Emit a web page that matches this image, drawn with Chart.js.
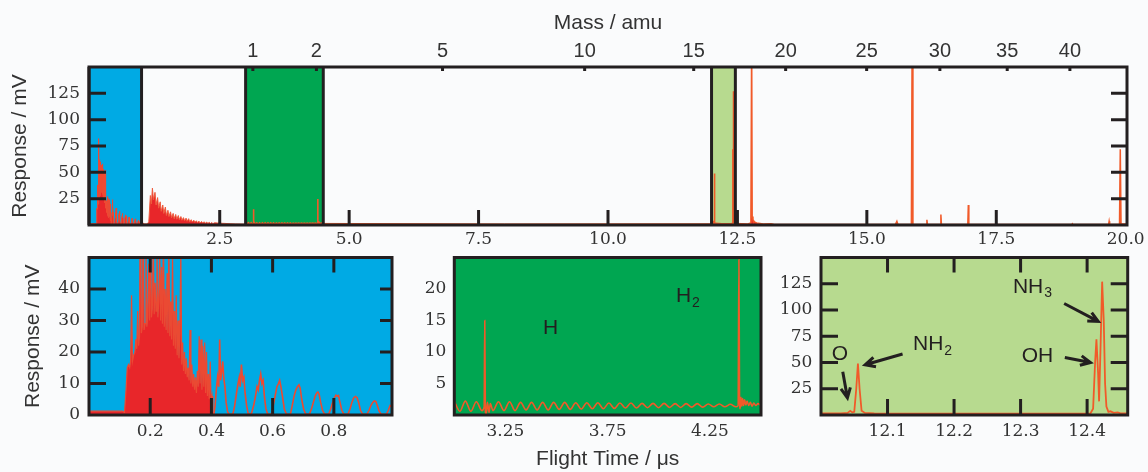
<!DOCTYPE html>
<html>
<head>
<meta charset="utf-8">
<script src="https://cdn.jsdelivr.net/npm/chart.js@4/dist/chart.umd.min.js"></script>
<style>
  html, body { margin: 0; padding: 0; background: #fafbfc; }
  #wrap { position: relative; width: 1148px; height: 472px; overflow: hidden; }
  .panel { position: absolute; }
</style>
</head>
<body>
<div id="wrap">
  <div class="panel" style="left:0;top:0"><canvas id="overview" width="1148" height="252"></canvas></div>
  <div class="panel" style="left:0;top:250px"><canvas id="zoomFast" width="400" height="222"></canvas></div>
  <div class="panel" style="left:400px;top:250px"><canvas id="zoomHydrogen" width="380" height="222"></canvas></div>
  <div class="panel" style="left:780px;top:250px"><canvas id="zoomAmmonia" width="368" height="222"></canvas></div>
</div>
<script>
// ---- data: [flight time (us), response (mV)] ----

// 0 - 0.41 us: dense fast burst (overview + bottom left)
const burstDense = [
  [0.000, 1.2], [0.110, 1.2], [0.116, 0.8], [0.121, 8], [0.125, 15], [0.129, 16], [0.133, 15],
  [0.136, 17], [0.139, 38], [0.142, 17], [0.146, 19], [0.150, 20], [0.153, 24], [0.156, 21],
  [0.159, 33], [0.162, 22], [0.165, 25], [0.168, 82], [0.171, 26], [0.174, 28], [0.177, 62],
  [0.180, 27], [0.183, 29], [0.186, 55], [0.189, 28], [0.192, 31], [0.195, 48], [0.198, 30],
  [0.201, 60], [0.204, 31], [0.207, 34], [0.210, 57], [0.213, 32], [0.216, 42], [0.219, 33],
  [0.222, 55], [0.225, 31], [0.228, 36], [0.231, 52], [0.234, 30], [0.237, 47], [0.240, 29],
  [0.243, 58], [0.246, 28], [0.249, 40], [0.252, 27], [0.255, 45], [0.258, 26], [0.261, 53],
  [0.264, 25], [0.267, 36], [0.270, 24], [0.273, 51], [0.276, 22], [0.279, 33], [0.282, 21],
  [0.285, 38], [0.288, 19], [0.291, 30], [0.294, 18], [0.297, 26], [0.300, 52], [0.303, 16],
  [0.306, 23], [0.309, 14], [0.312, 20], [0.315, 13], [0.318, 18], [0.321, 12], [0.324, 15],
  [0.327, 11], [0.330, 27], [0.333, 10], [0.336, 16], [0.339, 9], [0.342, 13], [0.345, 8],
  [0.348, 12], [0.351, 7], [0.354, 14], [0.357, 9], [0.360, 25], [0.363, 10], [0.366, 24],
  [0.369, 8], [0.372, 22], [0.375, 9], [0.378, 23], [0.381, 7], [0.384, 20], [0.387, 6],
  [0.390, 13], [0.393, 5], [0.396, 17], [0.399, 4], [0.402, 6], [0.405, 1], [0.408, 0.3]
];

// 0.41 - 1 us: decaying humps (overview + bottom left)
const burstHumps = [
  [0.408, 0.3], [0.412, 3], [0.416, 8], [0.420, 12], [0.424, 9], [0.427, 24], [0.430, 11],
  [0.434, 14], [0.437, 17], [0.440, 12], [0.444, 9], [0.448, 4], [0.453, 1], [0.458, 0.2],
  [0.470, 0.2], [0.476, 3], [0.482, 7], [0.487, 10], [0.491, 12], [0.494, 9], [0.498, 16],
  [0.502, 11], [0.506, 12], [0.510, 7], [0.515, 3], [0.520, 0.5], [0.530, 0.2], [0.538, 3],
  [0.544, 6], [0.549, 9], [0.553, 8], [0.557, 11], [0.561, 13], [0.565, 10], [0.569, 11],
  [0.573, 6], [0.578, 2], [0.584, 0.2], [0.596, 0.2], [0.602, 3], [0.608, 6], [0.614, 9],
  [0.619, 10], [0.623, 11], [0.627, 9], [0.632, 6], [0.638, 2], [0.645, 0.2], [0.658, 0.2],
  [0.664, 3], [0.670, 6], [0.676, 8], [0.681, 9], [0.686, 9.6], [0.690, 8.5], [0.695, 5],
  [0.701, 2], [0.708, 0.2], [0.720, 0.2], [0.727, 2], [0.733, 4], [0.739, 6], [0.744, 7],
  [0.748, 7.3], [0.752, 6.5], [0.757, 4], [0.763, 1.5], [0.770, 0.2], [0.783, 0.2], [0.790, 2],
  [0.796, 4], [0.802, 5.5], [0.807, 6.3], [0.811, 6.0], [0.815, 6.2], [0.820, 4], [0.826, 1.5],
  [0.833, 0.2], [0.846, 0.2], [0.853, 2], [0.859, 4], [0.865, 5.5], [0.871, 5.9], [0.876, 5.5],
  [0.881, 4], [0.887, 1.5], [0.894, 0.2], [0.908, 0.2], [0.915, 1.5], [0.921, 3], [0.927, 4],
  [0.932, 4.5], [0.937, 4.3], [0.942, 3], [0.948, 1.2], [0.955, 0.2], [0.972, 0.2], [0.978, 1.5],
  [0.984, 3], [0.990, 2.5]
];

// 1 - 3 us: second comb (overview only)
const comb = [
  [0.990, 2.5], [1.05, 1], [1.10, 1], [1.13, 3], [1.16, 28], [1.18, 20], [1.20, 35], [1.22, 24],
  [1.25, 31], [1.27, 19], [1.30, 26], [1.32, 16], [1.35, 22], [1.37, 13], [1.40, 19], [1.42, 11],
  [1.45, 17], [1.47, 9], [1.50, 14], [1.52, 8], [1.55, 12.5], [1.57, 7], [1.60, 11], [1.62, 6],
  [1.65, 10], [1.67, 5.5], [1.70, 9], [1.72, 5], [1.75, 8], [1.77, 4.5], [1.80, 7], [1.82, 4],
  [1.85, 6.5], [1.87, 3.5], [1.90, 6], [1.92, 3], [1.95, 5], [1.97, 2.8], [2.00, 4.5], [2.02, 2.5],
  [2.05, 4], [2.07, 2.2], [2.10, 3.6], [2.12, 2], [2.15, 3.3], [2.17, 1.8], [2.20, 3], [2.22, 1.6],
  [2.25, 2.8], [2.27, 1.5], [2.30, 2.5], [2.32, 1.4], [2.35, 2.3], [2.37, 1.3], [2.40, 2.1],
  [2.45, 1.9], [2.50, 1.8], [2.55, 1.6], [2.60, 1.5], [2.70, 1.2], [2.80, 1.0], [3.00, 0.8]
];

// 3 - 4.5 us: H and H2 (overview + bottom middle)
const hydrogen = [
  [3.000, 2.2], [3.027, 0.6], [3.054, 2.2], [3.081, 0.6], [3.108, 2.1], [3.135, 0.7],
  [3.146, 1.3], [3.149, 15], [3.152, 0.5], [3.156, 0.1], [3.162, 2.0], [3.170, 0.4], [3.176, 1.8],
  [3.189, 0.7], [3.216, 2.1], [3.243, 0.7], [3.270, 2.1], [3.297, 0.7], [3.324, 2.0], [3.351, 0.8],
  [3.378, 2.0], [3.405, 0.8], [3.432, 2.0], [3.459, 0.8], [3.486, 2.0], [3.513, 0.9], [3.540, 2.0],
  [3.567, 0.9], [3.594, 1.95], [3.621, 0.95], [3.648, 1.95], [3.675, 1.0], [3.702, 1.95],
  [3.729, 1.0], [3.756, 1.9], [3.783, 1.05], [3.810, 1.9], [3.837, 1.1], [3.864, 1.9], [3.891, 1.1],
  [3.918, 1.85], [3.945, 1.15], [3.972, 1.85], [3.999, 1.15], [4.026, 1.85], [4.053, 1.2],
  [4.080, 1.8], [4.107, 1.2], [4.134, 1.8], [4.161, 1.25], [4.188, 1.8], [4.215, 1.25],
  [4.242, 1.75], [4.269, 1.3], [4.296, 1.75], [4.323, 1.3], [4.350, 1.7], [4.377, 1.3],
  [4.388, 1.5], [4.392, 24.7], [4.395, 3], [4.398, 1.0], [4.402, 2.8], [4.406, 1.4], [4.410, 2.6],
  [4.415, 1.5], [4.420, 2.4], [4.426, 1.6], [4.432, 2.2], [4.440, 1.5], [4.448, 2.0], [4.456, 1.4],
  [4.465, 1.9], [4.475, 1.5], [4.485, 1.8], [4.500, 1.5]
];

// 4.5 - 12 us: flat (overview only)
const quiet = [[4.500, 1.5], [8.0, 1.0], [12.000, 1.2]];

// 12 - 12.46 us: O, NH2, OH, NH3 (overview + bottom right)
const ammonia = [
  [12.000, 1.5], [12.030, 1.5], [12.040, 2], [12.044, 4], [12.047, 2.5], [12.050, 3],
  [12.053, 25], [12.0555, 49], [12.058, 25], [12.061, 4], [12.066, 2], [12.080, 1.5],
  [12.200, 1.2], [12.380, 1.2], [12.405, 1.5], [12.409, 6], [12.412, 50], [12.414, 72],
  [12.4165, 40], [12.418, 13], [12.420, 60], [12.4226, 127], [12.425, 90], [12.427, 30],
  [12.429, 8], [12.432, 3], [12.435, 3.5], [12.440, 2], [12.446, 2.5], [12.450, 1.5], [12.460, 1.5]
];

// 12.46 - 20 us: heavier masses (overview only)
const heavy = [
  [12.46, 1.5], [12.70, 1], [12.76, 2], [12.775, 180], [12.785, 8], [12.80, 5], [12.83, 3],
  [12.87, 2], [13.00, 1], [13.15, 1.2], [13.20, 0.8], [15.55, 0.5], [15.58, 3.5], [15.60, 0.5],
  [15.86, 0.5], [15.875, 180], [15.89, 0.5], [16.15, 0.5], [16.16, 5], [16.17, 0.5], [16.42, 0.5],
  [16.43, 10], [16.44, 0.5], [16.95, 0.5], [16.96, 19], [16.97, 0.5], [18.96, 0.5], [18.97, 1.2],
  [18.98, 0.5], [19.67, 0.5], [19.68, 3.5], [19.69, 0.5], [19.88, 0.5], [19.895, 72], [19.91, 1],
  [20.02, 1]
];

// tick labels
const overviewTimeTicks = [2.5, 5.0, 7.5, 10.0, 12.5, 15.0, 17.5, 20.0];
const overviewRespTicks = [25, 50, 75, 100, 125];
const massLabels = [1, 2, 5, 10, 15, 20, 25, 30, 35, 40];
const fastTimeTicks = [0.2, 0.4, 0.6, 0.8];
const fastRespTicks = [0, 10, 20, 30, 40];
const hydrogenTimeTicks = [3.25, 3.75, 4.25];
const hydrogenRespTicks = [5, 10, 15, 20];
const ammoniaTimeTicks = [12.1, 12.2, 12.3, 12.4];
const ammoniaRespTicks = [25, 50, 75, 100, 125];

// mass axis calibration: t = a * sqrt(m) + b
const massCalA = 2.964, massCalB = 0.176;
const massTicks = massLabels.map(m => massCalA * Math.sqrt(m) + massCalB);

// ---- styling ----
const SERIF = 'DejaVu Serif';
const SANS = 'Liberation Sans';
const INK = '#231f20';
const TXT = '#333333';
const BLUE = '#00aae4';
const GREEN = '#00a651';
const LIGHTGREEN = '#b7da8f';
const RED = '#e8262a';
const ORANGE = '#f15a29';

function arrow(ctx, x0, y0, x1, y1) {
  const ang = Math.atan2(y1 - y0, x1 - x0), h = 11, spread = 0.45;
  ctx.beginPath();
  ctx.moveTo(x0, y0);
  ctx.lineTo(x1, y1);
  ctx.moveTo(x1 - h * Math.cos(ang - spread), y1 - h * Math.sin(ang - spread));
  ctx.lineTo(x1, y1);
  ctx.lineTo(x1 - h * Math.cos(ang + spread), y1 - h * Math.sin(ang + spread));
  ctx.stroke();
}

// panel background, highlighted windows, frame, inward ticks and labels
const panelDecor = {
  id: 'panelDecor',
  beforeDatasetsDraw(chart, args, o) {
    const { ctx, chartArea: a, scales } = chart;
    ctx.save();
    ctx.fillStyle = o.bg;
    ctx.fillRect(a.left, a.top, a.width, a.height);
    (o.boxes || []).forEach(b => {
      const x0 = scales.x.getPixelForValue(b.from), x1 = scales.x.getPixelForValue(b.to);
      ctx.fillStyle = b.color;
      ctx.fillRect(x0, a.top, x1 - x0, a.height);
    });
    ctx.restore();
  },
  afterDatasetsDraw(chart, args, o) {
    const { ctx, chartArea: a, scales } = chart;
    ctx.save();
    ctx.strokeStyle = INK;
    ctx.lineWidth = 3;
    (o.boxes || []).forEach(b => {
      [b.from, b.to].forEach(v => {
        const x = scales.x.getPixelForValue(v);
        ctx.beginPath();
        ctx.moveTo(x, a.top);
        ctx.lineTo(x, a.bottom);
        ctx.stroke();
      });
    });
    ctx.strokeRect(a.left, a.top, a.width, a.height);

    (o.ticks || []).forEach(t => {
      const sc = scales[t.scale];
      ctx.beginPath();
      t.values.forEach(v => {
        const p = sc.getPixelForValue(v);
        if (t.side === 'left') { ctx.moveTo(a.left, p); ctx.lineTo(a.left + t.len, p); }
        if (t.side === 'right') { ctx.moveTo(a.right, p); ctx.lineTo(a.right - t.len, p); }
        if (t.side === 'bottom') { ctx.moveTo(p, a.bottom); ctx.lineTo(p, a.bottom - t.len); }
        if (t.side === 'top') { ctx.moveTo(p, a.top); ctx.lineTo(p, a.top + t.len); }
      });
      ctx.stroke();
    });

    ctx.fillStyle = INK;
    ctx.textBaseline = 'middle';
    ctx.textAlign = 'left';
    (o.notes || []).forEach(n => {
      const x = scales.x.getPixelForValue(n.x), y = scales.y.getPixelForValue(n.y);
      ctx.font = '21px "' + SANS + '"';
      ctx.fillText(n.text, x, y);
      if (n.sub) {
        const w = ctx.measureText(n.text).width;
        ctx.font = '14px "' + SANS + '"';
        ctx.fillText(n.sub, x + w + 1, y + 6.5);
      }
    });

    ctx.lineWidth = 3;
    (o.arrows || []).forEach(r => {
      arrow(ctx,
        scales.x.getPixelForValue(r.from[0]), scales.y.getPixelForValue(r.from[1]),
        scales.x.getPixelForValue(r.to[0]), scales.y.getPixelForValue(r.to[1]));
    });
    ctx.restore();
  }
};

function axis(o) {
  return {
    type: 'linear',
    position: o.position,
    min: o.min,
    max: o.max,
    grid: { display: false, drawTicks: false },
    border: { display: false },
    afterBuildTicks: scale => { scale.ticks = o.ticks.map(v => ({ value: v })); },
    afterFit: scale => {
      if (scale.isHorizontal()) scale.height = o.size; else scale.width = o.size;
      scale.paddingLeft = scale.paddingRight = scale.paddingTop = scale.paddingBottom = 0;
    },
    ticks: {
      autoSkip: false,
      maxRotation: 0,
      padding: o.pad,
      color: TXT,
      font: o.font || { family: SERIF, size: 17 },
      callback: o.label || (v => v.toFixed(o.dec || 0))
    },
    title: o.title
      ? { display: true, text: o.title, color: TXT, font: { family: SANS, size: 21, lineHeight: 1.2 }, padding: o.titlePad }
      : { display: false }
  };
}

function trace(points, color, width, fill) {
  return {
    data: points.map(([x, y]) => ({ x, y })),
    borderColor: color,
    borderWidth: width,
    backgroundColor: fill || 'transparent',
    fill: fill ? 'origin' : false,
    pointRadius: 0,
    tension: 0,
    xAxisID: 'x',
    yAxisID: 'y'
  };
}

function makeChart(id, datasets, scales, padding, decor) {
  return new Chart(document.getElementById(id), {
    type: 'line',
    data: { datasets },
    plugins: [panelDecor],
    options: {
      responsive: false,
      animation: false,
      events: [],
      layout: { padding },
      scales,
      plugins: { legend: { display: false }, tooltip: { enabled: false }, panelDecor: decor }
    }
  });
}

// ---- overview ----
makeChart('overview',
  [
    trace(burstDense, '#ee4a33', 1, RED),
    trace(burstHumps, '#ee4a33', 1, RED),
    trace(comb, '#ef5a3c', 1, RED),
    trace(hydrogen, ORANGE, 1.6),
    trace(quiet, ORANGE, 1),
    trace(ammonia, ORANGE, 1.6),
    trace(heavy, ORANGE, 1.5, RED)
  ],
  {
    x: axis({ position: 'bottom', min: -0.025, max: 20.025, ticks: overviewTimeTicks, dec: 1, size: 27, pad: 4 }),
    xMass: axis({
      position: 'top', min: -0.025, max: 20.025, ticks: massTicks, size: 67, pad: 4,
      font: { family: SANS, size: 20 }, label: (v, i) => String(massLabels[i]),
      title: 'Mass / amu', titlePad: { top: 11, bottom: 0 }
    }),
    y: axis({ position: 'left', min: 0, max: 150, ticks: overviewRespTicks, size: 89, pad: 9,
      title: 'Response / mV', titlePad: { top: 7.4, bottom: 0 } })
  },
  { left: 0, right: 21, top: 0, bottom: 0 },
  {
    bg: '#fafbfc',
    boxes: [
      { from: -0.025, to: 0.99, color: BLUE },
      { from: 3.0, to: 4.5, color: GREEN },
      { from: 12.0, to: 12.46, color: LIGHTGREEN }
    ],
    ticks: [
      { scale: 'y', side: 'left', values: overviewRespTicks, len: 17 },
      { scale: 'y', side: 'right', values: overviewRespTicks, len: 16 },
      { scale: 'x', side: 'bottom', values: overviewTimeTicks.slice(0, -1), len: 15 },
      { scale: 'x', side: 'top', values: massTicks, len: 4 }
    ]
  }
);

// ---- bottom left: 0 - 1 us ----
makeChart('zoomFast',
  [
    trace(burstDense, '#ea4a33', 1.2, RED),
    trace(burstHumps, '#ec4a30', 1.6)
  ],
  {
    x: axis({ position: 'bottom', min: 0, max: 0.99, ticks: fastTimeTicks, dec: 1, size: 57, pad: 6 }),
    y: axis({ position: 'left', min: 0, max: 50, ticks: fastRespTicks, size: 89, pad: 9,
      title: 'Response / mV', titlePad: { top: 20.4, bottom: 0 } })
  },
  { left: 0, right: 8, top: 7.5, bottom: 0 },
  {
    bg: BLUE,
    ticks: [
      { scale: 'y', side: 'left', values: fastRespTicks.slice(1), len: 17 },
      { scale: 'y', side: 'right', values: fastRespTicks.slice(1), len: 12 },
      { scale: 'x', side: 'bottom', values: fastTimeTicks, len: 17 },
      { scale: 'x', side: 'top', values: fastTimeTicks, len: 15 }
    ]
  }
);

// ---- bottom middle: H, H2 ----
makeChart('zoomHydrogen',
  [Object.assign(trace(hydrogen, ORANGE, 1.6), { cubicInterpolationMode: 'monotone' })],
  {
    x: axis({ position: 'bottom', min: 3.0, max: 4.5, ticks: hydrogenTimeTicks, dec: 2, size: 57, pad: 6,
      title: 'Flight Time / \u03bcs', titlePad: { top: 0, bottom: 0 } }),
    y: axis({ position: 'left', min: 0, max: 25, ticks: hydrogenRespTicks, size: 54.3, pad: 8 })
  },
  { left: 0, right: 19, top: 7.5, bottom: 0 },
  {
    bg: GREEN,
    notes: [
      { text: 'H', x: 3.434, y: 13.8 },
      { text: 'H', sub: '2', x: 4.084, y: 18.8 }
    ]
  }
);

// ---- bottom right: O, NH2, OH, NH3 ----
makeChart('zoomAmmonia',
  [trace(ammonia, ORANGE, 1.8)],
  {
    x: axis({ position: 'bottom', min: 12.0, max: 12.461, ticks: ammoniaTimeTicks, dec: 1, size: 57, pad: 6 }),
    y: axis({ position: 'left', min: 0, max: 150, ticks: ammoniaRespTicks, size: 41, pad: 8.7 })
  },
  { left: 0, right: 20.3, top: 7.5, bottom: 0 },
  {
    bg: LIGHTGREEN,
    ticks: [
      { scale: 'y', side: 'left', values: ammoniaRespTicks, len: 17 },
      { scale: 'y', side: 'right', values: ammoniaRespTicks, len: 17 },
      { scale: 'x', side: 'bottom', values: ammoniaTimeTicks, len: 16 },
      { scale: 'x', side: 'top', values: ammoniaTimeTicks, len: 15 }
    ],
    notes: [
      { text: 'O', x: 12.0161, y: 57.6 },
      { text: 'NH', sub: '2', x: 12.1383, y: 67.0 },
      { text: 'NH', sub: '3', x: 12.2885, y: 122.1 },
      { text: 'OH', x: 12.3017, y: 56.4 }
    ],
    arrows: [
      { from: [12.0327, 41.1], to: [12.0397, 16.3] },
      { from: [12.1226, 58.1], to: [12.0664, 47.8] },
      { from: [12.3655, 106.2], to: [12.4167, 89.1] },
      { from: [12.3665, 54.8], to: [12.4051, 50.0] }
    ]
  }
);
</script>
</body>
</html>
